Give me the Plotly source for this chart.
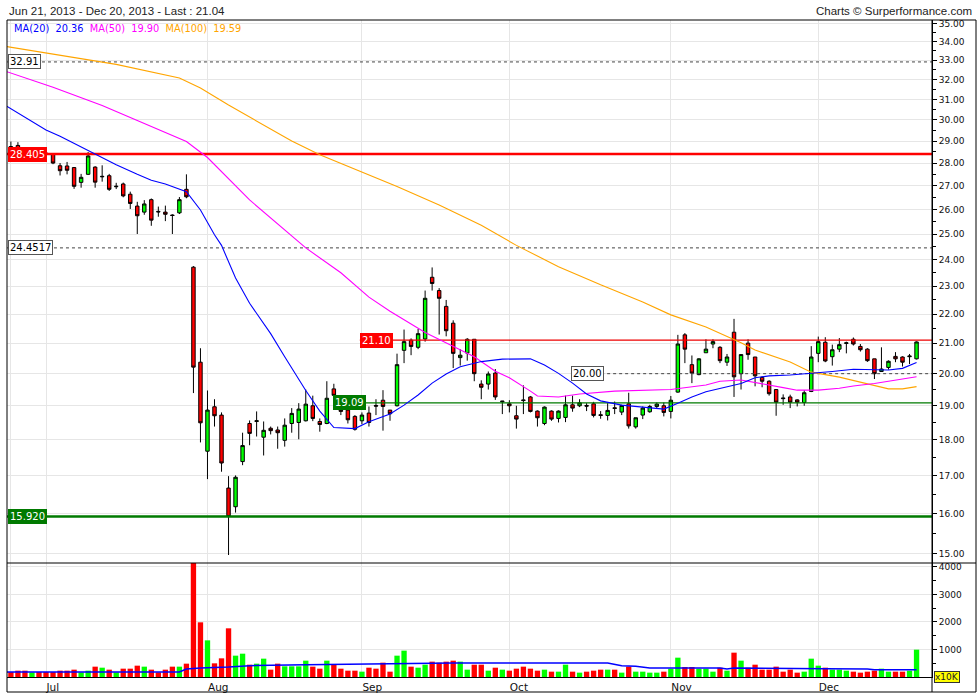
import math
import pandas as pd
import plotly.graph_objects as go

# ---------------- data ----------------
dates = [d.strftime("%Y-%m-%d") for d in pd.bdate_range("2013-06-21", "2013-12-20")]

opens = [28.80, 28.75, 28.80, 28.50, 28.30, 28.50, 28.45, 28.40, 27.88, 27.87,
         27.80, 27.15, 27.50, 27.82, 27.39, 27.44, 26.96, 27.08, 26.64, 26.14,
         25.89, 26.41, 25.92, 25.89, 25.77, 25.86, 26.85, 23.71, 20.37, 17.67,
         18.97, 18.72, 16.66, 16.17, 17.38, 18.47, 18.53, 18.07, 18.33, 18.28,
         17.98, 18.47, 18.50, 18.55, 19.00, 18.53, 18.47, 19.52, 19.03, 18.87,
         18.68, 18.55, 18.78, 19.01, 19.17, 18.87, 19.00, 20.76, 21.10, 20.86,
         21.14, 23.33, 22.84, 22.27, 21.68, 20.52, 20.67, 21.13, 19.67, 19.67,
         20.02, 19.12, 19.06, 18.70, 19.18, 19.27, 18.84, 18.47, 18.84, 18.62,
         18.65, 19.03, 19.00, 19.01, 19.06, 18.73, 18.71, 18.94, 18.81, 19.06,
         18.37, 18.72, 18.82, 18.98, 19.00, 18.83, 19.42, 21.28, 20.29, 19.97,
         20.68, 20.97, 20.86, 20.37, 21.37, 20.00, 21.00, 20.54, 19.88, 19.76,
         19.50, 19.24, 19.27, 19.18, 19.10, 19.44, 20.66, 21.03, 20.55, 20.80,
         20.99, 21.13, 20.89, 20.80, 20.48, 20.07, 20.20, 20.56, 20.54, 20.55,
         20.48]
highs = [29.00, 28.98, 28.95, 28.60, 28.60, 28.60, 28.60, 28.45, 28.00, 28.05,
         27.82, 27.52, 28.50, 27.86, 27.90, 27.52, 27.13, 27.14, 26.75, 26.32,
         26.39, 26.46, 26.12, 26.16, 25.80, 26.52, 27.50, 23.75, 20.83, 19.47,
         19.20, 18.80, 16.98, 17.00, 18.20, 18.56, 18.83, 18.53, 18.38, 18.38,
         18.62, 18.93, 19.08, 19.50, 19.31, 18.62, 19.76, 19.68, 19.20, 19.09,
         18.72, 18.80, 18.98, 19.20, 19.48, 18.87, 20.65, 21.46, 21.16, 21.48,
         22.84, 23.70, 22.93, 22.50, 21.78, 20.80, 21.17, 21.13, 19.79, 20.07,
         20.15, 19.15, 19.17, 19.00, 19.63, 19.30, 18.86, 18.98, 18.86, 18.86,
         19.31, 19.31, 19.20, 19.08, 19.12, 18.84, 19.08, 19.13, 19.03, 19.40,
         18.64, 18.98, 19.03, 19.10, 19.10, 19.30, 21.28, 21.34, 20.59, 20.50,
         21.13, 21.13, 20.90, 20.64, 21.83, 20.62, 21.13, 20.54, 19.92, 19.79,
         19.50, 19.35, 19.34, 19.20, 19.48, 20.90, 21.22, 21.20, 20.95, 21.17,
         21.05, 21.19, 20.97, 20.83, 20.48, 20.86, 20.43, 20.70, 20.56, 20.64,
         21.06]
lows = [28.50, 28.05, 28.05, 28.20, 28.20, 28.25, 28.20, 27.95, 27.45, 27.50,
        26.87, 26.92, 27.47, 26.92, 27.18, 26.78, 26.86, 26.51, 26.02, 25.00,
        25.78, 25.33, 25.70, 25.52, 25.00, 25.81, 26.47, 19.39, 17.92, 16.90,
        18.38, 17.10, 14.97, 16.02, 17.28, 17.84, 18.09, 17.55, 18.15, 17.74,
        17.80, 18.20, 18.01, 18.53, 18.54, 18.23, 18.45, 19.27, 18.72, 18.47,
        18.26, 18.45, 18.38, 18.72, 18.26, 18.55, 18.98, 20.34, 20.60, 20.80,
        21.05, 22.84, 21.29, 21.23, 20.18, 20.26, 20.42, 19.76, 19.20, 19.50,
        19.18, 18.75, 18.80, 18.32, 18.75, 18.80, 18.38, 18.42, 18.55, 18.50,
        18.51, 18.82, 18.96, 18.84, 18.65, 18.61, 18.56, 18.75, 18.72, 18.32,
        18.32, 18.60, 18.79, 18.93, 18.68, 18.62, 19.40, 20.34, 19.70, 19.95,
        20.68, 20.83, 20.34, 20.25, 19.27, 19.50, 20.45, 19.60, 19.57, 19.31,
        18.70, 19.03, 18.93, 18.98, 19.00, 19.42, 20.37, 20.37, 20.26, 20.70,
        20.66, 20.92, 20.72, 20.38, 19.83, 20.07, 20.13, 20.37, 20.23, 20.31,
        20.46]
closes = [28.70, 28.50, 28.45, 28.40, 28.45, 28.40, 28.40, 28.00, 27.66, 27.68,
          26.98, 27.37, 28.32, 27.16, 27.41, 26.85, 26.98, 26.57, 26.25, 25.74,
          26.23, 25.56, 25.90, 25.80, 25.75, 26.41, 26.53, 20.21, 18.49, 18.87,
          18.70, 17.34, 15.92, 16.95, 17.83, 18.18, 18.55, 18.27, 18.26, 18.20,
          18.42, 18.77, 18.90, 19.05, 18.62, 18.44, 19.23, 19.32, 18.83, 18.58,
          18.30, 18.72, 18.50, 18.99, 18.98, 18.76, 20.29, 21.05, 20.89, 21.32,
          22.56, 23.10, 22.56, 21.42, 20.66, 20.60, 21.13, 20.00, 19.57, 19.99,
          19.27, 19.14, 19.00, 18.60, 19.16, 18.83, 18.64, 18.96, 18.60, 18.84,
          19.03, 18.93, 19.09, 18.99, 18.71, 18.71, 18.86, 18.92, 19.01, 18.40,
          18.64, 18.93, 18.98, 19.05, 18.80, 19.17, 20.97, 20.80, 20.02, 20.48,
          20.80, 21.05, 20.42, 20.54, 19.90, 20.62, 20.62, 19.93, 19.76, 19.37,
          19.11, 19.22, 19.11, 19.11, 19.40, 20.54, 21.05, 20.41, 20.78, 20.95,
          21.01, 20.97, 20.78, 20.42, 20.00, 20.15, 20.40, 20.48, 20.37, 20.57,
          21.04]
volumes = [200, 182, 230, 230, 170, 182, 182, 182, 230, 230,
           267, 170, 230, 376, 339, 267, 170, 303, 303, 412,
           376, 267, 170, 267, 376, 376, 485, 4300, 1988, 1333,
           497, 679, 1770, 776, 848, 448, 485, 667, 267, 485,
           388, 388, 388, 594, 376, 303, 594, 436, 303, 230,
           230, 194, 339, 303, 521, 194, 776, 958, 376, 339,
           448, 558, 521, 558, 594, 558, 267, 448, 448, 230,
           339, 267, 230, 303, 376, 303, 230, 267, 194, 194,
           448, 194, 158, 194, 230, 267, 267, 267, 158, 376,
           194, 194, 158, 158, 194, 303, 703, 364, 364, 303,
           303, 194, 339, 230, 885, 594, 339, 448, 267, 267,
           376, 194, 267, 158, 194, 667, 412, 339, 267, 267,
           230, 194, 158, 194, 230, 303, 194, 194, 194, 230,
           994]

# moving averages (trading-day index, value)
ma20_idx = [0, 4, 6, 8, 11, 14, 16, 19, 21, 23, 26, 28, 30, 31, 33, 35, 38, 40, 43, 45,
            47, 50, 52, 55, 57, 59, 61, 63, 65, 68, 71, 75, 77, 79, 81, 83, 85, 88, 91, 94,
            96, 98, 100, 103, 105, 107, 109, 112, 115, 118, 121, 124, 126, 128, 130]
ma20_val = [30.75, 29.93, 29.52, 29.22, 28.73, 28.25, 27.92, 27.50, 27.24, 27.08,
            26.75, 25.98, 24.97, 24.55, 23.30, 22.38, 21.32, 20.55, 19.47, 18.84,
            18.35, 18.32, 18.52, 18.75, 19.02, 19.33, 19.70, 19.99, 20.22, 20.39,
            20.47, 20.48, 20.28, 20.01, 19.70, 19.36, 19.15, 19.02, 18.96, 18.90,
            19.08, 19.27, 19.43, 19.58, 19.69, 19.87, 19.93, 19.96, 20.01, 20.07,
            20.14, 20.14, 20.12, 20.17, 20.36]
ma50_idx = [0, 7, 14, 22, 26, 29, 35, 43, 48, 52, 55, 60, 65, 67, 70, 72, 75, 76, 79, 82,
            87, 95, 100, 102, 105, 108, 111, 113, 116, 119, 121, 124, 126, 130]
ma50_val = [32.45, 31.60, 30.70, 29.55, 28.98, 28.25, 26.40, 24.45, 23.50, 22.60,
            22.10, 21.36, 20.77, 20.55, 20.08, 19.87, 19.45, 19.30, 19.27, 19.36,
            19.45, 19.50, 19.64, 19.76, 19.80, 19.69, 19.56, 19.48, 19.48, 19.54,
            19.61, 19.69, 19.76, 19.90]
ma100_idx = [0, 8, 16, 25, 28, 32, 36, 41, 45, 51, 56, 62, 68, 73, 77, 79, 85, 91, 95, 100,
             105, 107, 112, 115, 119, 122, 124, 126, 128, 130]
ma100_val = [33.75, 33.28, 32.78, 32.08, 31.57, 30.72, 29.95, 29.00, 28.37, 27.60,
             26.97, 26.19, 25.35, 24.55, 24.00, 23.73, 23.05, 22.43, 21.97, 21.55,
             21.01, 20.77, 20.38, 20.05, 19.89, 19.73, 19.64, 19.52, 19.52, 19.59]
volma_idx = [0, 25, 26, 28, 32, 35, 43, 56, 64, 86, 87, 88, 90, 92, 102, 103, 104, 116, 117, 123, 124, 130]
volma_val = [182, 182, 291, 327, 364, 412, 448, 473, 509, 509, 448, 412, 388, 327, 327, 291, 327, 327, 303, 291, 267, 267]

# horizontal levels: value, start index (None = whole width), label text
levels = [32.91, 28.405, 24.4517, 21.10, 20.00, 19.09, 15.92]
level_text = ["32.91", "28.405", "24.4517", "21.10", "20.00", "19.09", "15.920"]
level_start = [None, None, None, 50.7, 80.8, 46.9, None]

month_idx = [1, 6, 29, 51, 72, 95, 116]
month_text = ["", "Jul", "Aug", "Sep", "Oct", "Nov", "Dec"]

price_ticks = list(range(15, 36))
vol_ticks = [1000, 2000, 3000, 4000]

# ---------------- figure ----------------
n = len(dates)
idx = list(range(n))
X0, X1 = 0.444, 132.2
vol_dom = 114 / 657

RED = "#ff0000"
fig = go.Figure()

level_style = [
    dict(color="#444", width=1, dash="3px,3px"),
    dict(color="#ff0000", width=2.5),
    dict(color="#444", width=1, dash="3px,3px"),
    dict(color="#ee0000", width=1.3),
    dict(color="#444", width=1, dash="3px,3px"),
    dict(color="#007a00", width=1.3),
    dict(color="#007a00", width=2.5),
]
for lv, st, ls in zip(levels, level_start, level_style):
    xs = X0 - 1 if st is None else st
    fig.add_trace(go.Scatter(x=[xs, X1 + 1], y=[lv, lv], mode="lines", line=ls,
                             xaxis="x2", yaxis="y2", hoverinfo="skip", showlegend=False))

for mi, mv, col in [(ma100_idx, ma100_val, "#ffa500"), (ma50_idx, ma50_val, "#ff00ff"),
                    (ma20_idx, ma20_val, "#0000ff")]:
    fig.add_trace(go.Scatter(x=mi, y=mv, mode="lines", line=dict(color=col, width=1.1),
                             xaxis="x2", yaxis="y2", hoverinfo="skip", showlegend=False))

fig.add_trace(go.Candlestick(
    x=idx, open=opens, high=highs, low=lows, close=closes,
    xaxis="x2", yaxis="y2", whiskerwidth=0,
    increasing=dict(line=dict(color="black", width=1), fillcolor="#00ff00"),
    decreasing=dict(line=dict(color="black", width=1), fillcolor=RED),
    hoverinfo="skip", showlegend=False))

vol_colors = ["#00ff00" if c > o else RED for o, c in zip(opens, closes)]
fig.add_trace(go.Bar(x=idx, y=volumes, marker=dict(color=vol_colors, line=dict(width=0)),
                     width=0.76, xaxis="x", yaxis="y", hoverinfo="skip", showlegend=False))
fig.add_trace(go.Scatter(x=volma_idx, y=volma_val, mode="lines", line=dict(color="#0000ff", width=1.5),
                         xaxis="x", yaxis="y", hoverinfo="skip", showlegend=False))

GRID = "#e6e6e6"
tickfont = dict(family="DejaVu Sans", size=9, color="#111")
fig.update_layout(
    width=980, height=700,
    margin=dict(l=7, r=48, t=20, b=23),
    paper_bgcolor="white", plot_bgcolor="white",
    showlegend=False,
    xaxis=dict(domain=[0, 1], anchor="y", range=[X0, X1], tickmode="array",
               tickvals=month_idx, ticktext=month_text, showgrid=True, gridcolor=GRID,
               showline=True, linecolor="black", linewidth=1, ticks="",
               ticklabelposition="outside right", zeroline=False,
               tickfont=dict(family="DejaVu Sans", size=10.5, color="#111"),
               rangeslider=dict(visible=False)),
    xaxis2=dict(domain=[0, 1], anchor="y2", matches="x", range=[X0, X1], tickmode="array",
                tickvals=month_idx, showticklabels=False, showgrid=True, gridcolor=GRID,
                ticks="", zeroline=False, rangeslider=dict(visible=False)),
    yaxis=dict(domain=[0, vol_dom], anchor="x", side="right", range=[0, 4145],
               tickmode="array", tickvals=vol_ticks, ticktext=[str(v) for v in vol_ticks],
               showgrid=True, gridcolor=GRID, showline=True, linecolor="black", linewidth=1,
               ticks="outside", ticklen=4, tickcolor="black", tickfont=tickfont, zeroline=False,
               minor=dict(tickmode="array", tickvals=[500, 1500, 2500, 3500], ticks="outside",
                          ticklen=3, tickcolor="black", showgrid=False)),
    yaxis2=dict(domain=[vol_dom, 1], anchor="x2", side="right", type="log",
                range=[math.log10(14.78), math.log10(35.19)],
                tickmode="array", tickvals=price_ticks, ticktext=["%.2f" % v for v in price_ticks],
                showgrid=True, gridcolor=GRID, showline=True, linecolor="black", linewidth=1,
                ticks="outside", ticklen=4, tickcolor="black", tickfont=tickfont, zeroline=False,
                minor=dict(tickmode="array", tickvals=[v + 0.5 for v in price_ticks[:-1]],
                           ticks="outside", ticklen=3, tickcolor="black", showgrid=False)),
)

# frame lines
PX = 925.0
fig.add_shape(type="rect", xref="paper", yref="paper", x0=0, x1=(976 - 7) / PX,
              y0=-15 / 657, y1=1, line=dict(color="black", width=1), layer="above")
fig.add_shape(type="line", xref="paper", yref="paper", x0=0, x1=(976 - 7) / PX,
              y0=vol_dom, y1=vol_dom, line=dict(color="black", width=1), layer="above")
fig.add_shape(type="line", xref="paper", yref="paper", x0=1, x1=1,
              y0=-15 / 657, y1=1, line=dict(color="black", width=1), layer="above")

ann = []
ann.append(dict(xref="paper", yref="paper", x=0, y=1 + 9 / 657, xanchor="left", yanchor="middle",
                text="Jun 21, 2013 - Dec 20, 2013 - Last : 21.04", showarrow=False,
                font=dict(family="Liberation Sans", size=11.5, color="#222")))
ann.append(dict(xref="paper", yref="paper", x=(974 - 7) / PX, y=1 + 9 / 657, xanchor="right",
                yanchor="middle", text="Charts © Surperformance.com", showarrow=False,
                font=dict(family="Liberation Sans", size=11.5, color="#222")))
legend_txt = ("<span style='color:#0000ff'>MA(20)&nbsp;&nbsp;%.2f</span>&nbsp;&nbsp;"
              "<span style='color:#ff00ff'>MA(50)&nbsp;&nbsp;%.2f</span>&nbsp;&nbsp;"
              "<span style='color:#ffa500'>MA(100)&nbsp;&nbsp;%.2f</span>"
              % (ma20_val[-1], ma50_val[-1], ma100_val[-1]))
ann.append(dict(xref="paper", yref="paper", x=5 / PX, y=1 - 8 / 657, xanchor="left", yanchor="middle",
                text=legend_txt, showarrow=False, font=dict(family="DejaVu Sans", size=9.8)))

label_style = [
    dict(bgcolor="white", bordercolor="#555", font_color="black"),
    dict(bgcolor="#ff0000", bordercolor="#ff0000", font_color="white"),
    dict(bgcolor="white", bordercolor="#555", font_color="black"),
    dict(bgcolor="#ff0000", bordercolor="#ff0000", font_color="white"),
    dict(bgcolor="white", bordercolor="#555", font_color="black"),
    dict(bgcolor="#007a00", bordercolor="#007a00", font_color="white"),
    dict(bgcolor="#007a00", bordercolor="#007a00", font_color="white"),
]
for lv, txt, st, s in zip(levels, level_text, level_start, label_style):
    if st is None:
        xr, xv = "paper", 0.0015
    else:
        xr, xv = "x2", st
    ann.append(dict(xref=xr, yref="y2", x=xv, y=math.log10(lv), xanchor="left", yanchor="middle",
                    text=txt, showarrow=False, bgcolor=s["bgcolor"], bordercolor=s["bordercolor"],
                    borderwidth=1, borderpad=1,
                    font=dict(family="DejaVu Sans", size=10, color=s["font_color"])))

ann.append(dict(xref="paper", yref="paper", x=1 + 2 / PX, y=0, xanchor="left", yanchor="middle",
                text="x10K", showarrow=False, bgcolor="#ffff00", bordercolor="#333", borderwidth=1,
                borderpad=0, font=dict(family="DejaVu Sans", size=9, color="#222")))
fig.update_layout(annotations=ann)

fig.write_html("out.html", config={"displayModeBar": False},
               post_script="document.body.style.margin='0px';document.body.style.overflow='hidden';")
